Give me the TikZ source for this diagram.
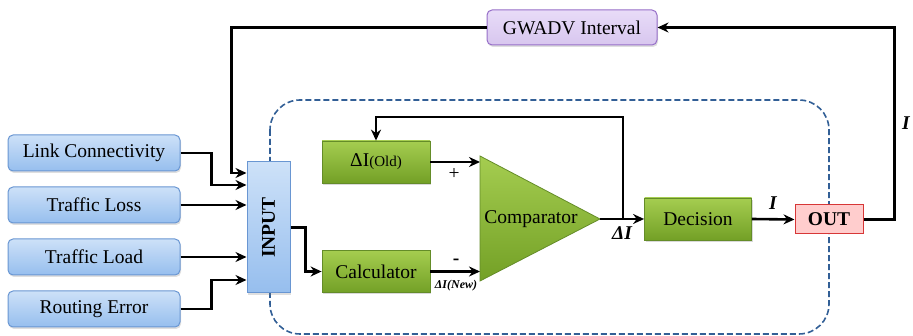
\documentclass[tikz,border=0pt]{standalone}
\usepackage{graphicx}
\usepackage{fontspec}
\setmainfont{Liberation Serif}
\usepackage{tikz}
\usetikzlibrary{arrows.meta, positioning, shadows}
\definecolor{inblue}{RGB}{205,225,248}
\definecolor{inbluedark}{RGB}{150,190,238}
\definecolor{inborder}{RGB}{105,150,210}
\definecolor{stepgreen}{RGB}{165,205,80}
\definecolor{stepgreendark}{RGB}{115,160,38}
\definecolor{greenborder}{RGB}{100,140,40}
\definecolor{outpink}{RGB}{255,205,205}
\definecolor{outborder}{RGB}{215,55,55}
\definecolor{gwlilac}{RGB}{232,220,248}
\definecolor{gwborder}{RGB}{150,110,200}
\definecolor{dashblue}{RGB}{50,95,150}

\begin{document}
\begin{tikzpicture}[x=1pt, y=-1pt,
    font=\fontsize{19.5}{23}\selectfont,
    node distance=15pt,
    inbox/.style={rectangle, draw=inborder, line width=1pt, rounded corners=5pt, minimum width=172pt, minimum height=36pt, inner sep=0pt, top color=inblue, bottom color=inbluedark, drop shadow={opacity=0.25, shadow xshift=1pt, shadow yshift=-2pt}},
    gbox/.style={rectangle, draw=greenborder, line width=0.8pt, minimum width=108pt, minimum height=42pt, inner sep=0pt, top color=stepgreen, bottom color=stepgreendark, drop shadow={opacity=0.3, shadow xshift=1pt, shadow yshift=-2pt}},
    link/.style={line width=2.6pt, -{Stealth[length=11pt,width=10pt]}},
    lbl/.style={font=\fontsize{19.5}{23}\selectfont\bfseries\itshape}
]
\useasboundingbox (0,0) rectangle (913,336);

% dashed frame round the inner loop
\draw[dashblue, line width=1.6pt, dash pattern=on 6pt off 3pt, rounded corners=30pt] (270,100) rectangle (829,334);

% inputs
\node[inbox] (link) at (94,153) {Link Connectivity};
\node[inbox, below=of link] (loss) {Traffic Loss};
\node[inbox, below=of loss] (load) {Traffic Load};
\node[inbox, below=of load] (route) {Routing Error};
\node[rectangle, draw=inborder, line width=1pt, minimum width=43pt, minimum height=131pt, inner sep=0pt, top color=inblue, bottom color=inbluedark, drop shadow={opacity=0.25, shadow xshift=1pt, shadow yshift=-2pt}] (input) at (268.5,227.5) {\rotatebox{90}{\bfseries INPUT}};

% inner loop
\node[gbox] (old) at (376,162) {ΔI{\fontsize{15}{18}\selectfont(Old)}};
\node[gbox] (calc) at (376,271.5) {Calculator};
\draw[draw=greenborder, line width=0.8pt, top color=stepgreen, bottom color=stepgreendark] (480,156) -- (600,219) -- (480,281) -- cycle;
\node (cmp) at (531,219) {Comparator};
\coordinate (cmpin) at (480,219);
\coordinate (cmpout) at (600,219);
\coordinate (tap) at (623,219);
\node[gbox, minimum width=107pt] (dec) at (698,219) {Decision};
\node[rectangle, draw=outborder, line width=1pt, fill=outpink, minimum width=68pt, minimum height=29pt, inner sep=0pt, font=\fontsize{19.5}{23}\selectfont\bfseries] (out) at (829,219.5) {OUT};
\node[rectangle, draw=gwborder, line width=1pt, rounded corners=5pt, minimum width=170pt, minimum height=35pt, inner sep=0pt, top color=gwlilac, bottom color=gwlilac!80!gwborder, drop shadow={opacity=0.25, shadow xshift=1pt, shadow yshift=-2pt}] (gw) at (572,27.5) {GWADV Interval};

% connectors
\draw[link] (gw.west) -| ([xshift=-15pt,yshift=54.5pt]input.west) -- ([yshift=54.5pt]input.west);
\draw[link] (link.east) -| ([xshift=-35pt,yshift=42.5pt]input.west) -- ([yshift=42.5pt]input.west);
\draw[link] (loss.east) -- (loss.east -| input.west);
\draw[link] (load.east) -- (load.east -| input.west);
\draw[link] (route.east) -| ([xshift=-35pt,yshift=-52.5pt]input.west) -- ([yshift=-52.5pt]input.west);
\draw[link] (input.east) -- ++(15,0) |- (calc.west);
\draw[link] (old.east) -- (old.east -| cmpin);
\draw[link] (calc.east) -- (calc.east -| cmpin);
\draw[link] (cmpout) -- (dec.west);
\draw[link] (tap) -- ++(0,-102) -| (old.north);
\draw[link] (dec.east) -- (out.west);
\draw[link] (out.east) -- ++(31,0) |- (gw.east);

% labels
\node at (454,174) {+};
\node at (456,262) {\bfseries -};
\node[font=\fontsize{12}{14}\selectfont\bfseries\itshape] at (456,286) {ΔI(New)};
\node[lbl] at (622,233) {ΔI};
\node[lbl] at (773,203) {I};
\node[lbl] at (906,123) {I};
\end{tikzpicture}
\end{document}
